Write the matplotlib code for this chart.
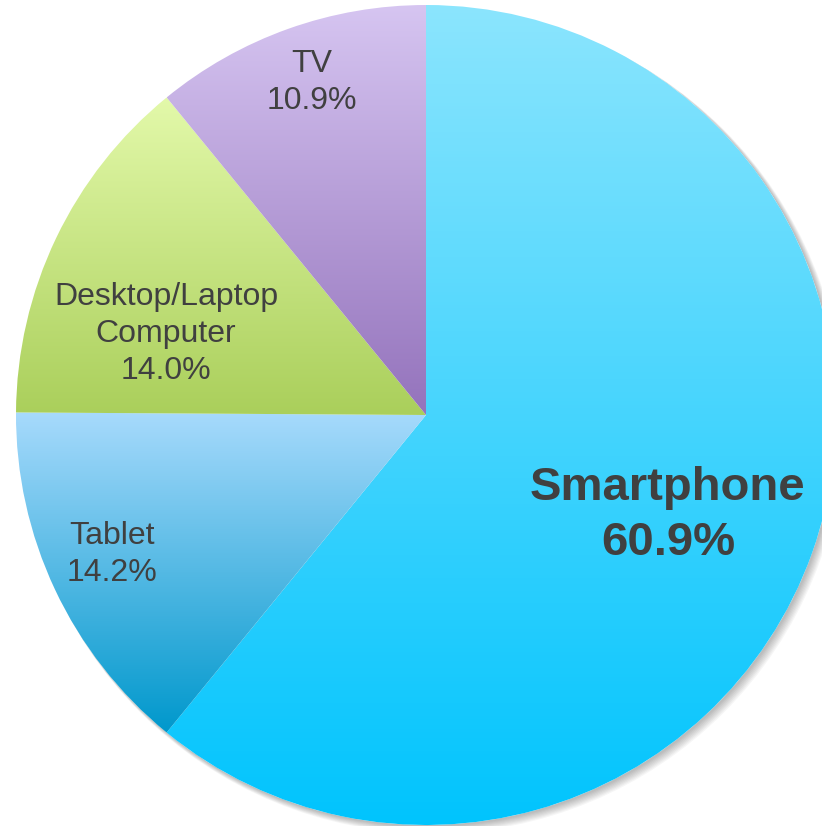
import numpy as np
import matplotlib
matplotlib.use("Agg")
import matplotlib.pyplot as plt
from matplotlib.colors import LinearSegmentedColormap
from matplotlib.patches import Circle

# Share of use by device
devices = ["Smartphone", "Tablet", "Desktop/Laptop\nComputer", "TV"]
shares = [60.9, 14.2, 14.0, 10.9]

# top / bottom colour of each slice's vertical gradient
grad_top = ["#8be5fd", "#a7dafc", "#e3f9aa", "#d6c5f1"]
grad_bottom = ["#00c4fe", "#0098cc", "#aacf5b", "#9473bc"]

# label anchor points (data units, pie radius = 1)
label_xy = [(0.59, -0.245), (-0.766, -0.34), (-0.634, 0.198), (-0.278, 0.81)]

W, H = 822, 826
cx, cy, rpx = 426, 415, 410

fig = plt.figure(figsize=(W / 100, H / 100), dpi=100)
ax = fig.add_axes([0, 0, 1, 1])

wedges, _ = ax.pie(shares, startangle=90, counterclock=False, radius=1,
                   wedgeprops=dict(facecolor="none", linewidth=0))

# soft drop shadow under the pie
for k in range(8):
    off = 0.004 + k * 0.0016
    ax.add_patch(Circle((off, -off), 1.0 + k * 0.0008, facecolor="black",
                        edgecolor="none", alpha=0.035, zorder=0))
ax.add_patch(Circle((0, 0), 1.0, facecolor="white", edgecolor="none", zorder=0.5))

grad = np.linspace(0, 1, 256).reshape(-1, 1)
for w, c0, c1 in zip(wedges, grad_top, grad_bottom):
    verts = w.get_path().vertices
    y0, y1 = verts[:, 1].min(), verts[:, 1].max()
    x0, x1 = verts[:, 0].min(), verts[:, 0].max()
    cmap = LinearSegmentedColormap.from_list("g", [c0, c1])
    im = ax.imshow(grad, cmap=cmap, aspect="auto", extent=(x0, x1, y0, y1),
                   origin="upper", interpolation="bilinear", zorder=1)
    im.set_clip_path(w)

for name, pct, (x, y) in zip(devices, shares, label_xy):
    big = name == "Smartphone"
    ax.text(x, y, f"{name}\n{pct:.1f}%", ha="center", va="center",
            family="Liberation Sans", color="#404040",
            fontsize=34 if big else 23, fontweight="bold" if big else "normal",
            linespacing=1.3, zorder=3)

ax.set_aspect("auto")
ax.set_xlim(-cx / rpx, (W - cx) / rpx)
ax.set_ylim(-(H - cy) / rpx, cy / rpx)
ax.axis("off")

fig.savefig("out.png", dpi=100, facecolor="white")
